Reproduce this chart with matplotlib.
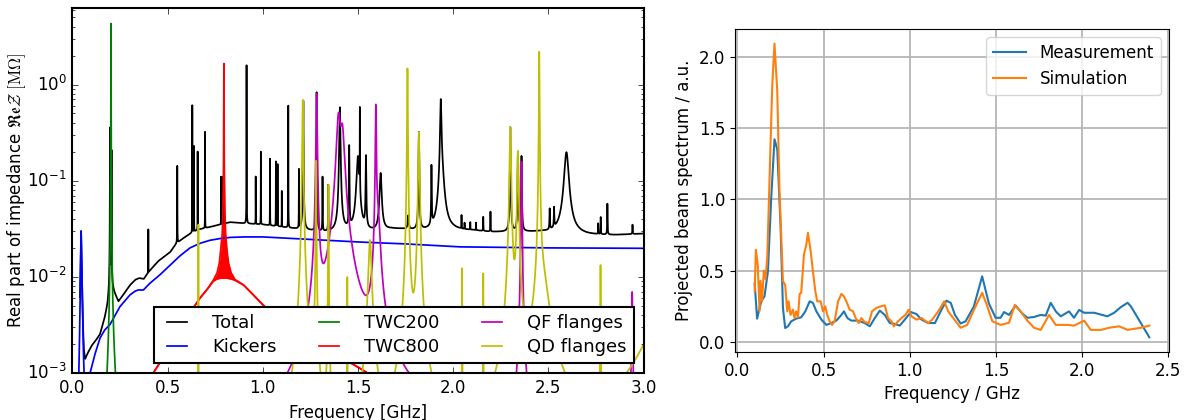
import numpy as np
import matplotlib
matplotlib.use("Agg")
import matplotlib.pyplot as plt

# ---------------- impedance model (left panel) ----------------
# Kicker broadband impedance [MOhm] vs frequency [GHz]
kick_f = [0.030, 0.034, 0.038, 0.042, 0.046, 0.050, 0.054, 0.058, 0.065, 0.075, 0.085,
          0.093, 0.12, 0.145, 0.17, 0.198, 0.25, 0.303, 0.33, 0.346, 0.373, 0.408, 0.46,
          0.513, 0.565, 0.618, 0.67, 0.723, 0.775, 0.828, 0.90, 1.0, 1.25, 1.51, 1.75,
          2.035, 2.5, 3.0]
kick_z = [5e-4, 1e-3, 0.0025, 0.008, 0.030, 0.012, 0.0045, 0.0017, 6e-4, 5e-4, 7e-4,
          1.0e-3, 0.0016, 0.0023, 0.0028, 0.0032, 0.0049, 0.0065, 0.0071, 0.0073, 0.0073,
          0.0086, 0.0105, 0.0132, 0.0165, 0.020, 0.0223, 0.024, 0.025, 0.0257, 0.026,
          0.026, 0.0245, 0.023, 0.022, 0.0205, 0.0200, 0.0198]

# Smooth background of the total impedance
tot_f = [0.040, 0.042, 0.046, 0.050, 0.055, 0.060, 0.067, 0.08, 0.10, 0.125, 0.145, 0.17,
         0.185, 0.195, 0.21, 0.22, 0.242, 0.27, 0.303, 0.33, 0.35, 0.375, 0.40, 0.45,
         0.513, 0.545, 0.58, 0.618, 0.66, 0.723, 0.828, 0.90, 1.0, 1.1, 1.2, 1.3, 1.4,
         1.5, 1.6, 1.676, 1.72, 1.8, 1.9, 2.0, 2.1, 2.2, 2.3, 2.45, 2.55, 2.7, 2.85, 3.0]
tot_z = [0.006, 0.010, 0.030, 0.010, 0.0035, 0.0018, 0.0014, 0.0016, 0.0019, 0.0022,
         0.0025, 0.0037, 0.0050, 0.0070, 0.0078, 0.0068, 0.0055, 0.0066, 0.0082, 0.0093,
         0.0097, 0.0095, 0.0112, 0.0145, 0.018, 0.022, 0.025, 0.028, 0.031, 0.033, 0.037,
         0.036, 0.035, 0.033, 0.031, 0.029, 0.029, 0.029, 0.029, 0.031, 0.031, 0.030,
         0.029, 0.030, 0.030, 0.029, 0.029, 0.029, 0.028, 0.027, 0.027, 0.028]

# Resonances of the total impedance: frequency [GHz], peak [MOhm], quality factor
tot_fr = [0.198, 0.206, 0.399, 0.551, 0.630, 0.639, 0.658, 0.697, 0.781, 0.793, 0.915,
          0.963, 0.990, 1.038, 1.069, 1.078, 1.100, 1.134, 1.190, 1.213, 1.283, 1.314,
          1.344, 1.405, 1.454, 1.500, 1.510, 1.542, 1.619, 1.764, 1.820, 1.886, 1.935,
          1.940, 2.044, 2.060, 2.090, 2.120, 2.158, 2.196, 2.300, 2.340, 2.359, 2.507,
          2.530, 2.595, 2.762, 2.775, 2.810, 2.942]
tot_R = [0.35, 0.20, 0.020, 0.12, 0.58, 0.20, 0.17, 0.29, 0.075, 0.075, 1.55,
         0.075, 0.165, 0.135, 0.125, 0.115, 0.045, 0.57, 0.10, 0.65, 0.80, 0.08,
         0.06, 0.55, 0.20, 0.15, 0.50, 0.15, 0.09, 0.012, 0.29, 0.11, 0.60,
         0.09, 0.012, 0.005, 0.006, 0.006, 0.012, 0.018, 0.33, 0.17, 0.15, 0.020,
         0.020, 0.17, 0.008, 0.014, 0.030, 0.007]
tot_Q = [200, 300, 3000, 800, 2000, 2000, 2000, 2000, 2000, 2000, 2500,
         2000, 2000, 2000, 2000, 2000, 2000, 2500, 1500, 600, 1000, 1000,
         1000, 250, 700, 100, 2000, 500, 150, 300, 600, 800, 300,
         80, 2000, 2000, 2000, 2000, 1500, 1500, 800, 800, 800, 1000,
         1000, 110, 2000, 2000, 1500, 1500]

# TWC200 fundamental resonance
twc200_fr = [0.203]
twc200_R = [4.3]
twc200_Q = [300]

# TWC800: envelope of the dense response (upper and lower edge)
twc800_f = [0.38, 0.425, 0.50, 0.565, 0.62, 0.67, 0.71, 0.74, 0.76, 0.772, 0.779, 0.787,
            0.791, 0.794, 0.796, 0.798, 0.801, 0.805, 0.812, 0.82, 0.834, 0.854, 0.90,
            0.95, 1.01, 1.10, 1.20, 1.30, 1.40, 1.50, 1.55, 1.62]
twc800_hi = [7e-4, 1e-3, 1.7e-3, 2.9e-3, 4.3e-3, 6.0e-3, 7.5e-3, 9.2e-3, 0.011, 0.014,
             0.019, 0.028, 0.05, 0.15, 1.65, 0.15, 0.05, 0.028, 0.019, 0.014, 0.011,
             9.4e-3, 8.2e-3, 6.5e-3, 4.9e-3, 3.6e-3, 2.7e-3, 2.0e-3, 1.5e-3, 1.15e-3,
             1.0e-3, 8e-4]
twc800_lo = [7e-4, 1e-3, 1.7e-3, 2.9e-3, 4.3e-3, 6.0e-3, 7.5e-3, 9.0e-3, 9.5e-3, 9.6e-3,
             9.7e-3, 9.7e-3, 9.7e-3, 9.7e-3, 9.7e-3, 9.7e-3, 9.7e-3, 9.7e-3, 9.7e-3,
             9.6e-3, 9.5e-3, 9.2e-3, 8.2e-3, 6.5e-3, 4.9e-3, 3.6e-3, 2.7e-3, 2.0e-3,
             1.5e-3, 1.15e-3, 1.0e-3, 8e-4]

# QF flange resonances
qf_fr = [1.283, 1.398, 1.418, 1.594, 1.605, 2.359, 2.940]
qf_R = [0.80, 0.45, 0.30, 0.60, 0.04, 0.157, 0.0069]
qf_Q = [250, 70, 70, 400, 80, 600, 600]

# QD flange resonances
qd_fr = [0.662, 1.210, 1.280, 1.345, 1.444, 1.563, 1.760, 1.820, 2.047, 2.158, 2.300,
         2.340, 2.452, 2.470, 2.774, 3.150]
qd_R = [0.035, 0.69, 0.16, 0.09, 0.0097, 0.024, 1.47, 0.32, 0.012, 0.0104, 0.36,
        0.20, 2.18, 0.008, 0.0127, 0.006]
qd_Q = [1500, 275, 500, 700, 1500, 100, 600, 300, 2000, 2000, 350,
        350, 1000, 40, 2000, 15]

# ---------------- beam spectrum (right panel) ----------------
meas_f = [0.100, 0.114, 0.138, 0.157, 0.177, 0.196, 0.215, 0.231, 0.250, 0.264, 0.277,
          0.293, 0.312, 0.341, 0.370, 0.394, 0.419, 0.438, 0.458, 0.487, 0.516, 0.545,
          0.574, 0.603, 0.618, 0.638, 0.661, 0.700, 0.738, 0.768, 0.797, 0.826, 0.855,
          0.884, 0.913, 0.942, 0.971, 1.006, 1.039, 1.068, 1.107, 1.146, 1.184, 1.213,
          1.238, 1.262, 1.295, 1.324, 1.372, 1.420, 1.459, 1.498, 1.527, 1.547, 1.576,
          1.614, 1.653, 1.682, 1.720, 1.760, 1.789, 1.818, 1.847, 1.876, 1.924, 1.953,
          1.983, 2.012, 2.070, 2.147, 2.186, 2.225, 2.264, 2.283, 2.390]
meas_v = [0.410, 0.164, 0.285, 0.320, 0.496, 1.010, 1.420, 1.350, 0.820, 0.240, 0.098,
          0.110, 0.145, 0.164, 0.173, 0.215, 0.285, 0.274, 0.215, 0.157, 0.120, 0.133,
          0.150, 0.190, 0.215, 0.168, 0.150, 0.150, 0.133, 0.110, 0.168, 0.220, 0.190,
          0.133, 0.126, 0.115, 0.157, 0.210, 0.196, 0.157, 0.133, 0.133, 0.227, 0.290,
          0.274, 0.190, 0.130, 0.145, 0.250, 0.460, 0.270, 0.170, 0.170, 0.210, 0.190,
          0.255, 0.200, 0.170, 0.175, 0.190, 0.185, 0.275, 0.215, 0.180, 0.215, 0.170,
          0.225, 0.205, 0.205, 0.180, 0.205, 0.245, 0.275, 0.250, 0.033]

sim_f = [0.100, 0.107, 0.118, 0.128, 0.134, 0.143, 0.153, 0.163, 0.173, 0.186, 0.202,
         0.215, 0.231, 0.244, 0.264, 0.277, 0.289, 0.297, 0.308, 0.322, 0.331, 0.341,
         0.351, 0.361, 0.370, 0.386, 0.400, 0.409, 0.425, 0.438, 0.452, 0.463, 0.483,
         0.496, 0.510, 0.521, 0.535, 0.549, 0.564, 0.584, 0.603, 0.618, 0.632, 0.651,
         0.671, 0.686, 0.704, 0.719, 0.738, 0.762, 0.781, 0.806, 0.832, 0.855, 0.874,
         0.894, 0.907, 0.932, 0.952, 0.975, 0.994, 1.010, 1.039, 1.068, 1.107, 1.130,
         1.165, 1.200, 1.223, 1.252, 1.295, 1.333, 1.372, 1.420, 1.450, 1.479, 1.527,
         1.576, 1.609, 1.643, 1.682, 1.721, 1.760, 1.808, 1.847, 1.915, 1.953, 2.012,
         2.050, 2.109, 2.157, 2.215, 2.264, 2.341, 2.390]
sim_v = [0.356, 0.646, 0.540, 0.215, 0.430, 0.285, 0.500, 0.440, 0.590, 1.130, 1.800,
         2.090, 1.760, 1.060, 0.426, 0.400, 0.215, 0.285, 0.190, 0.227, 0.168, 0.215,
         0.173, 0.337, 0.344, 0.613, 0.683, 0.765, 0.636, 0.496, 0.356, 0.285, 0.285,
         0.215, 0.250, 0.190, 0.145, 0.120, 0.145, 0.285, 0.337, 0.320, 0.285, 0.227,
         0.215, 0.168, 0.133, 0.168, 0.140, 0.133, 0.215, 0.239, 0.250, 0.257, 0.168,
         0.145, 0.110, 0.145, 0.168, 0.190, 0.227, 0.180, 0.157, 0.168, 0.133, 0.157,
         0.215, 0.285, 0.215, 0.168, 0.100, 0.120, 0.225, 0.345, 0.250, 0.145, 0.120,
         0.135, 0.260, 0.215, 0.150, 0.100, 0.085, 0.190, 0.120, 0.120, 0.115, 0.150,
         0.085, 0.085, 0.100, 0.110, 0.085, 0.100, 0.115]


def resonator_sum(f, fr, R, Q):
    """Real part of a sum of parallel RLC resonators."""
    z = np.zeros_like(f)
    for f0, r, q in zip(fr, R, Q):
        z += r / (1.0 + q ** 2 * (f / f0 - f0 / f) ** 2)
    return z


all_fr = tot_fr + twc200_fr + qf_fr + qd_fr
freq = np.union1d(np.linspace(0.002, 3.0, 30000), np.array(all_fr))

fig = plt.figure(figsize=(11.9, 4.2), dpi=100)
fig.patch.set_facecolor("white")

with plt.style.context("classic"):
    ax1 = fig.add_axes([0.0608, 0.1119, 0.4800, 0.8683])
    lw = 1.25
    total = np.exp(np.interp(freq, tot_f, np.log(tot_z))) + resonator_sum(freq, tot_fr, tot_R, tot_Q)
    m = freq >= tot_f[0]
    ax1.plot(freq[m], total[m], color="k", lw=lw, label="Total")
    ax1.plot(kick_f, kick_z, color="b", lw=lw, label="Kickers")
    ax1.plot(freq, resonator_sum(freq, twc200_fr, twc200_R, twc200_Q), color="g", lw=lw,
             label="TWC200")
    ax1.fill_between(twc800_f, twc800_lo, twc800_hi, color="r", lw=0)
    ax1.plot(twc800_f, twc800_lo, color="r", lw=lw)
    ax1.plot(twc800_f, twc800_hi, color="r", lw=lw, label="TWC800")
    ax1.plot(freq, resonator_sum(freq, qf_fr, qf_R, qf_Q), color="m", lw=lw, label="QF flanges")
    ax1.plot(freq, resonator_sum(freq, qd_fr, qd_R, qd_Q), color="y", lw=lw, label="QD flanges")
    ax1.set_yscale("log")
    ax1.set_xlim(0, 3.0)
    ax1.set_ylim(1e-3, 6.2)
    ax1.set_xticks([0.0, 0.5, 1.0, 1.5, 2.0, 2.5, 3.0])
    ax1.set_xlabel("Frequency [GHz]", fontsize=12)
    ax1.set_ylabel(r"Real part of impedance $\mathfrak{Re}\mathcal{Z}\ [\mathrm{M}\Omega]$",
                   fontsize=12)
    ax1.yaxis.set_label_coords(-0.077, 0.5)
    for s in ax1.spines.values():
        s.set_linewidth(1.5)
    leg1 = ax1.legend(loc="lower right", ncol=3, fontsize=13, handlelength=1.7,
                      handletextpad=1.1, columnspacing=2.05, borderaxespad=0.55,
                      labelspacing=0.3, fancybox=False)
    leg1.get_frame().set_edgecolor("k")
    leg1.get_frame().set_linewidth(1.5)

ax2 = fig.add_axes([0.6176, 0.1619, 0.3648, 0.7691])
ax2.plot(meas_f, meas_v, color="#1f77b4", lw=1.5, label="Measurement")
ax2.plot(sim_f, sim_v, color="#ff7f0e", lw=1.5, label="Simulation")
ax2.grid(True, color="#b0b0b0", lw=1.2)
ax2.set_axisbelow(True)
ax2.tick_params(labelsize=12)
ax2.set_xticks([0.0, 0.5, 1.0, 1.5, 2.0, 2.5])
ax2.set_yticks([0.0, 0.5, 1.0, 1.5, 2.0])
ax2.set_xlabel("Frequency / GHz", fontsize=12)
ax2.set_ylabel("Projected beam spectrum / a.u.", fontsize=12)
ax2.legend(loc="upper right", fontsize=12)

fig.savefig("out.png", dpi=100, facecolor="white")
